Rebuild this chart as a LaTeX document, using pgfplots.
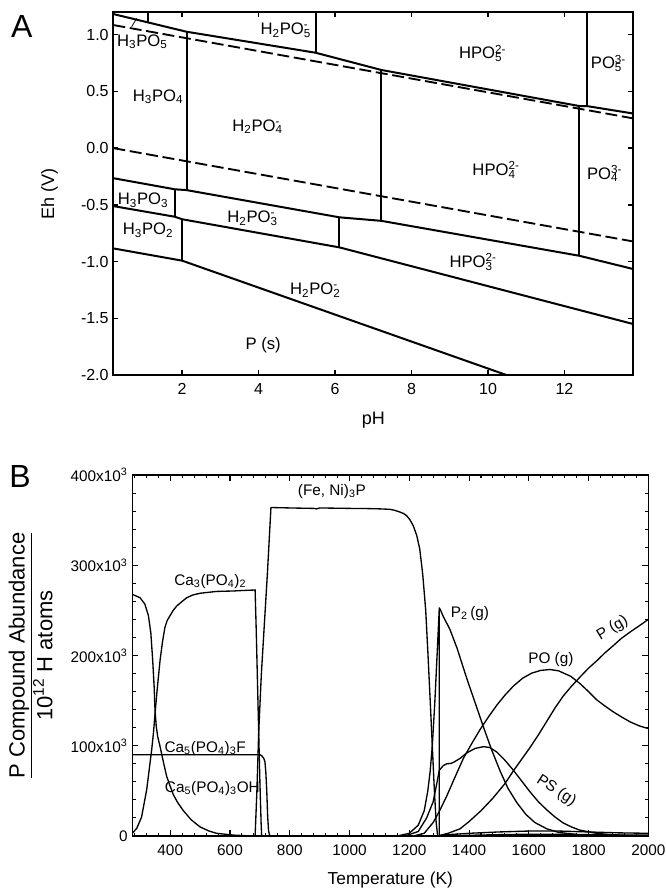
\documentclass[border=0pt]{standalone}
\usepackage{pgfplots}
\pgfplotsset{compat=1.18}
\usepackage{fontspec}
\setmainfont{Liberation Sans}
\newcommand{\sub}[1]{\textsubscript{#1}}
\newcommand{\ion}[2]{\rlap{\textsubscript{#1}}\textsuperscript{#2}}

\begin{document}
\begin{tikzpicture}[
  ln/.style={black, line width=1.5pt},
  dl/.style={black, line width=1.4pt, dash pattern=on 9pt off 3.5pt},
  cv/.style={black, line width=1pt},
  lblA/.style={font=\fontsize{12.5}{14}\selectfont},
  lblB/.style={font=\fontsize{11.5}{13}\selectfont},
]
\path[use as bounding box] (0,0) rectangle (499.5pt,-666pt);

% ---------- panel A: Eh-pH diagram
\begin{axis}[
  at={(84.98pt,-281.25pt)}, anchor=south west,
  scale only axis, width=390pt, height=272.25pt,
  xmin=0.2, xmax=13.8, ymin=-2, ymax=1.2,
  xtick={2,4,6,8,10,12}, xticklabels={2,4,6,8,10,12},
  ytick={-2,-1.5,-1,-0.5,0,0.5,1},
  yticklabels={-2.0,-1.5,-1.0,-0.5,0.0,0.5,1.0},
  major tick length=3.8pt,
  tick style={black, line width=1pt},
  axis line style={line width=1.5pt},
  ticklabel style={font=\fontsize{12}{14}\selectfont},
  xticklabel style={yshift=-3pt},
  xlabel={pH}, ylabel={Eh (V)},
  label style={font=\fontsize{13.5}{16}\selectfont},
  xlabel style={at={(axis description cs:0.5,-0.124)}, anchor=center},
  ylabel style={at={(axis description cs:-0.123,0.5)}, anchor=center},
]
% water stability limits
\addplot[dl, mark=none] coordinates {(0.2,1.085) (13.8,0.262)};
\addplot[dl, mark=none] coordinates {(0.2,0.0) (13.8,-0.823)};
% boundaries
\addplot[ln, mark=none] coordinates {(0.2,1.182) (2.116,1.026) (5.49,0.841) (7.21,0.689) (12.39,0.371) (12.58,0.371) (13.8,0.305)};
\addplot[ln, mark=none] coordinates {(0.2,-0.265) (1.811,-0.363) (2.116,-0.370) (6.114,-0.610) (7.21,-0.641) (12.39,-0.949) (13.8,-1.066)};
\addplot[ln, mark=none] coordinates {(0.2,-0.511) (1.811,-0.605) (2.0,-0.627) (6.114,-0.875) (13.8,-1.551)};
\addplot[ln, mark=none] coordinates {(0.2,-0.884) (2.0,-0.992) (10.48,-2.0)};
\addplot[ln, mark=none] coordinates {(1.114,1.2) (1.114,1.107)};
\addplot[ln, mark=none] coordinates {(2.116,1.026) (2.116,-0.370)};
\addplot[ln, mark=none] coordinates {(5.49,1.2) (5.49,0.841)};
\addplot[ln, mark=none] coordinates {(7.21,0.689) (7.21,-0.641)};
\addplot[ln, mark=none] coordinates {(12.58,1.2) (12.58,0.371)};
\addplot[ln, mark=none] coordinates {(12.39,0.371) (12.39,-0.949)};
\addplot[ln, mark=none] coordinates {(1.811,-0.363) (1.811,-0.605)};
\addplot[ln, mark=none] coordinates {(2.0,-0.627) (2.0,-0.992)};
\addplot[ln, mark=none] coordinates {(6.114,-0.610) (6.114,-0.875)};
\addplot[black, line width=0.6pt, mark=none] coordinates {(0.68,1.07) (0.81,1.144)};

\node[lblA] at (axis cs:0.96,0.938) {H\sub{3}PO\sub{5}};
\node[lblA] at (axis cs:4.68,1.04) {H\sub{2}PO\ion{5}{-}};
\node[lblA] at (axis cs:9.86,0.836) {HPO\ion{5}{2-}};
\node[lblA] at (axis cs:13.15,0.748) {PO\ion{5}{3-}};
\node[lblA] at (axis cs:1.37,0.453) {H\sub{3}PO\sub{4}};
\node[lblA] at (axis cs:3.94,0.189) {H\sub{2}PO\ion{4}{-}};
\node[lblA] at (axis cs:10.21,-0.193) {HPO\ion{4}{2-}};
\node[lblA] at (axis cs:13.05,-0.222) {PO\ion{4}{3-}};
\node[lblA] at (axis cs:0.98,-0.458) {H\sub{3}PO\sub{3}};
\node[lblA] at (axis cs:3.81,-0.619) {H\sub{2}PO\ion{3}{-}};
\node[lblA] at (axis cs:1.11,-0.722) {H\sub{3}PO\sub{2}};
\node[lblA] at (axis cs:9.61,-1.002) {HPO\ion{3}{2-}};
\node[lblA] at (axis cs:5.45,-1.25) {H\sub{2}PO\ion{2}{-}};
\node[lblA] at (axis cs:4.12,-1.736) {P (s)};
\end{axis}

% ---------- panel B: abundances vs temperature
\begin{axis}[
  at={(99.23pt,-627pt)}, anchor=south west,
  scale only axis, width=387pt, height=270.75pt,
  xmin=273, xmax=2000, ymin=0, ymax=400,
  xtick={400,600,800,1000,1200,1400,1600,1800,2000},
  xticklabels={400,600,800,1000,1200,1400,1600,1800,2000},
  minor xtick={280,320,...,1960},
  ytick={0,100,200,300,400},
  minor ytick={20,40,...,380},
  yticklabels={0,100x10\textsuperscript{3},200x10\textsuperscript{3},300x10\textsuperscript{3},400x10\textsuperscript{3}},
  major tick length=4.5pt, minor tick length=2.5pt,
  tick style={black, line width=0.8pt},
  axis line style={line width=1.1pt},
  ticklabel style={font=\fontsize{11.5}{13}\selectfont},
  xticklabel style={yshift=-3pt},
  xlabel={Temperature (K)},
  ylabel={\underline{P Compound Abundance}\\10\textsuperscript{12} H atoms},
  xlabel style={font=\fontsize{13}{15}\selectfont, at={(axis description cs:0.5,-0.122)}, anchor=center},
  ylabel style={font=\fontsize{16.5}{19}\selectfont, align=center, at={(axis description cs:-0.197,0.5)}, anchor=center},
]
% Ca5(PO4)3OH
\addplot[cv, mark=none] coordinates {(273,267.8) (299,264) (315,257) (327,244) (335,225) (341,196) (346,166) (349,140) (353,122) (358,110) (366,99) (377,82) (388,66) (400,55) (410,46) (425,37) (444,28) (470,18) (500,10) (530,5.5) (555,3) (611,1) (650,0.4) (700,0)};
% Ca3(PO4)2
\addplot[cv, mark=none] coordinates {(273,3) (288,8.6) (304,21) (321,51) (332,80) (338,96) (344,115) (349,135) (355,158) (360,175) (366,195) (374,215) (382,231) (390,239) (399,244) (410,250) (422,255) (440,260) (455,264) (475,267) (500,269) (555,271) (611,271.5) (640,272) (684,272.6) (688,225) (692,170) (696,115) (700,60) (704,15) (706,0)};
% Ca5(PO4)3F
\addplot[cv, mark=none] coordinates {(273,90) (700,90) (706,89) (713,86) (717,82) (720,70) (723,50) (726,22) (729,6) (733,0)};
% (Fe,Ni)3P
\addplot[cv, mark=none] coordinates {(684,0) (690,50) (696,115) (705,180) (715,235) (725,290) (737,364) (800,363.5) (880,363) (890,362.5) (900,363.5) (1000,363) (1060,362.8) (1100,362.5) (1135,362) (1150,361) (1168,359) (1180,357.5) (1191,355) (1202,350.5) (1213,344) (1225,333) (1235,318) (1245,290) (1255,250) (1262,205) (1270,150) (1277,100) (1284,50) (1290,15) (1295,0)};
% rising branch ending at 1300 K
\addplot[cv, mark=none] coordinates {(1160,0) (1200,3) (1230,12) (1250,28) (1262,50) (1270,72) (1277,100) (1285,145) (1293,200) (1300.5,253) (1300.5,0)};
% P2(g)
\addplot[cv, mark=none] coordinates {(1300.5,253) (1305,250) (1314,243) (1336,229) (1360,208) (1392,175) (1420,148) (1448,121) (1475,96) (1504,72) (1530,53) (1560,37) (1590,24) (1620,15) (1660,8) (1700,4) (1771,1.2) (1850,0.4) (2000,0.1)};
% PS(g)
\addplot[cv, mark=none] coordinates {(1190,0.5) (1230,5) (1258,20) (1280,38) (1292,58) (1300.5,73) (1314,78) (1325,80) (1340,80.5) (1350,82) (1370,86) (1392,92) (1420,97) (1448,99) (1470,98) (1493,93) (1520,84) (1548,73) (1576,61) (1604,49) (1632,38) (1660,29) (1688,21) (1715,14.5) (1743,10) (1771,6.5) (1827,3) (1883,1.2) (1940,0.5) (2000,0.3)};
% PO(g)
\addplot[cv, mark=none] coordinates {(1220,0.5) (1250,3) (1280,15) (1300,27) (1325,44) (1350,63) (1381,86) (1410,103) (1437,118) (1465,132) (1493,145) (1520,156) (1548,166) (1580,175) (1610,180.5) (1640,183.5) (1671,184.5) (1700,183) (1740,177) (1771,169) (1800,160) (1827,151) (1855,144) (1883,137.5) (1910,132) (1939,126.5) (1970,122) (2000,119)};
% P(g)
\addplot[cv, mark=none] coordinates {(1300,0.5) (1330,3) (1370,8) (1400,16) (1440,28) (1480,42) (1520,58) (1548,72) (1576,85) (1604,98) (1632,112) (1660,127) (1688,142) (1715,155) (1743,166) (1771,176) (1800,186) (1827,194) (1855,203) (1883,211) (1910,219) (1939,226) (1970,233) (2000,240)};
% minor gas species
\addplot[cv, mark=none] coordinates {(1290,0) (1330,1.5) (1400,3) (1500,4.5) (1600,5.5) (1700,5.5) (1800,4.5) (1900,3.5) (2000,3)};
\addplot[cv, mark=none] coordinates {(1300,0) (1400,0.8) (1500,1.5) (1600,2) (1700,2) (1800,1.6) (1900,1.2) (2000,1)};

\node[lblB] at (axis cs:941,382) {(Fe, Ni)\sub{3}P};
\node[lblB] at (axis cs:534,282) {Ca\sub{3}(PO\sub{4})\sub{2}};
\node[lblB] at (axis cs:517,97) {Ca\sub{5}(PO\sub{4})\sub{3}F};
\node[lblB] at (axis cs:541,53) {Ca\sub{5}(PO\sub{4})\sub{3}OH};
\node[lblB] at (axis cs:1403,247) {P\sub{2}\,(g)};
\node[lblB] at (axis cs:1674,195) {PO (g)};
\node[lblB, rotate=31] at (axis cs:1880,230) {P (g)};
\node[lblB, rotate=-33] at (axis cs:1692,50) {PS (g)};
\end{axis}

\node[font=\fontsize{24}{28}\selectfont] at (16.3pt,-20pt) {A};
\node[font=\fontsize{24}{28}\selectfont] at (15pt,-357.5pt) {B};
\end{tikzpicture}
\end{document}
